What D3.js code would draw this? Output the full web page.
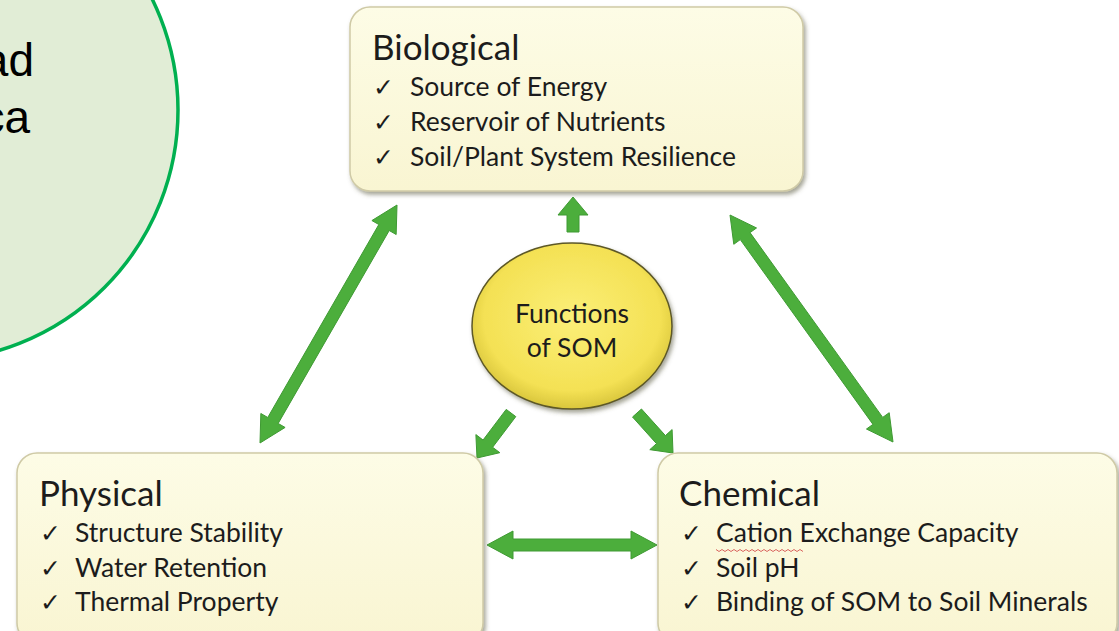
<!DOCTYPE html>
<head>
    <style>
        body { margin: 0; background: #fff; }
        svg { display: block; }
        text { font-family: Lato, "Open Sans", sans-serif; fill: #1c1c1c; }
    </style>
</head>
<body>
    <script src="https://d3js.org/d3.v7.min.js"></script>
    <script>
        const w = 1119, h = 631;

        // diagram content
        const boxTitles = ['Biological', 'Physical', 'Chemical'];
        const boxItems = [
            ['Source of Energy', 'Reservoir of Nutrients', 'Soil/Plant System Resilience'],
            ['Structure Stability', 'Water Retention', 'Thermal Property'],
            ['Cation Exchange Capacity', 'Soil pH', 'Binding of SOM to Soil Minerals']
        ];
        const centerLines = ['Functions', 'of SOM'];
        const sideLines = ['ad', 'ca'];

        // layout
        const boxes = [
            {x: 350, y: 7,   w: 453, h: 184, title: 60,  items: [96, 131, 166], tx: 372, cx: 373, ix: 410},
            {x: 17,  y: 453, w: 466, h: 190, title: 506, items: [542, 577, 611], tx: 39,  cx: 40,  ix: 75},
            {x: 658, y: 453, w: 459, h: 190, title: 506, items: [542, 577, 611], tx: 679, cx: 681, ix: 716}
        ];
        const arrows = [
            {a: [573, 232], b: [573, 197], both: false},
            {a: [511, 413], b: [477, 458], both: false},
            {a: [637, 413], b: [673, 453], both: false},
            {a: [260, 443], b: [397, 205], both: true},
            {a: [730, 215], b: [893, 442], both: true},
            {a: [487, 545], b: [657, 545], both: true}
        ];

        var svg = d3.select('body')
                    .append('svg')
                    .attr('width', w)
                    .attr('height', h);

        var defs = svg.append('defs');
        var bg = defs.append('linearGradient').attr('id', 'boxfill')
                     .attr('x1', 0).attr('y1', 0).attr('x2', 0).attr('y2', 1);
        bg.append('stop').attr('offset', '0%').attr('stop-color', '#fdfce6');
        bg.append('stop').attr('offset', '100%').attr('stop-color', '#f9f5d2');

        var rg = defs.append('radialGradient').attr('id', 'yellow')
                     .attr('cx', '50%').attr('cy', '45%').attr('r', '55%');
        rg.append('stop').attr('offset', '0%').attr('stop-color', '#fbef78');
        rg.append('stop').attr('offset', '80%').attr('stop-color', '#f4e154');
        rg.append('stop').attr('offset', '100%').attr('stop-color', '#d9c63c');

        var sh = defs.append('filter').attr('id', 'shadow')
                     .attr('x', '-10%').attr('y', '-10%').attr('width', '130%').attr('height', '130%');
        sh.append('feDropShadow').attr('dx', 2).attr('dy', 3).attr('stdDeviation', 2)
          .attr('flood-color', '#5a5a40').attr('flood-opacity', 0.55);

        // green side circle, cut off at the left
        svg.append('circle')
           .attr('cx', -73).attr('cy', 110).attr('r', 251)
           .attr('fill', '#e1edd6')
           .attr('stroke', '#00b050')
           .attr('stroke-width', 3.5);

        svg.selectAll('text.side')
           .data(sideLines)
           .enter()
           .append('text')
           .attr('class', 'side')
           .attr('x', (d, i) => i ? 30 : 34)
           .attr('y', (d, i) => 76 + i * 57)
           .attr('text-anchor', 'end')
           .style('font-family', '"Liberation Sans", Arial, sans-serif')
           .style('font-size', '46px')
           .style('fill', '#000')
           .text(d => d);

        // arrows as outlined polygons
        function arrowPath(d) {
            const [x1, y1] = d.a, [x2, y2] = d.b;
            const len = Math.hypot(x2 - x1, y2 - y1);
            const sw = 6, hw = d.both ? 14 : 15, hl = d.both ? 26 : 18;
            const pts = [];
            if (d.both) {
                pts.push([0, 0], [hl, -hw], [hl, -sw]);
            } else {
                pts.push([0, -sw]);
            }
            pts.push([len - hl, -sw], [len - hl, -hw], [len, 0],
                     [len - hl, hw], [len - hl, sw]);
            if (d.both) {
                pts.push([hl, sw], [hl, hw]);
            } else {
                pts.push([0, sw]);
            }
            const ang = Math.atan2(y2 - y1, x2 - x1);
            const c = Math.cos(ang), s = Math.sin(ang);
            return d3.line()(pts.map(p => [x1 + p[0] * c - p[1] * s, y1 + p[0] * s + p[1] * c])) + 'Z';
        }

        svg.selectAll('path.arrow')
           .data(arrows)
           .enter()
           .append('path')
           .attr('class', 'arrow')
           .attr('d', arrowPath)
           .attr('fill', '#4cae3c')
           .attr('stroke', '#3f9a33')
           .attr('stroke-width', 1)
           .attr('stroke-linejoin', 'miter');

        // center ellipse
        svg.append('ellipse')
           .attr('cx', 572).attr('cy', 326).attr('rx', 100).attr('ry', 83)
           .attr('fill', 'url(#yellow)')
           .attr('stroke', '#5d5828')
           .attr('stroke-width', 1.5)
           .attr('filter', 'url(#shadow)');

        svg.selectAll('text.center')
           .data(centerLines)
           .enter()
           .append('text')
           .attr('class', 'center')
           .attr('x', 572)
           .attr('y', (d, i) => 323 + i * 34)
           .attr('text-anchor', 'middle')
           .style('font-size', '26.5px')
           .text(d => d);

        // boxes
        var g = svg.selectAll('g.box')
                   .data(boxes)
                   .enter()
                   .append('g')
                   .attr('class', 'box');

        g.append('rect')
         .attr('x', d => d.x).attr('y', d => d.y)
         .attr('width', d => d.w).attr('height', d => d.h)
         .attr('rx', 20).attr('ry', 20)
         .attr('fill', 'url(#boxfill)')
         .attr('stroke', '#cfcaa6')
         .attr('stroke-width', 1.5)
         .attr('filter', 'url(#shadow)');

        g.append('text')
         .attr('x', d => d.tx)
         .attr('y', d => d.title)
         .style('font-size', '35px')
         .text((d, i) => boxTitles[i]);

        g.each(function(b, bi) {
            var sel = d3.select(this);
            boxItems[bi].forEach(function(item, k) {
                sel.append('text')
                   .attr('x', b.cx)
                   .attr('y', b.items[k])
                   .style('font-family', '"DejaVu Sans", sans-serif')
                   .style('font-size', '25px')
                   .text('\u2713');
                sel.append('text')
                   .attr('x', b.ix)
                   .attr('y', b.items[k])
                   .style('font-size', '26.5px')
                   .text(item);
            });
        });

        // spell-check squiggle under "Cation"
        var sq = d3.range(0, 88, 3).map((x, i) => [716 + x, 550 + (i % 2 ? 1.5 : -0.5)]);
        svg.append('path')
           .attr('d', d3.line()(sq))
           .attr('fill', 'none')
           .attr('stroke', '#d04040')
           .attr('stroke-width', 0.8);
    </script>
</body>
